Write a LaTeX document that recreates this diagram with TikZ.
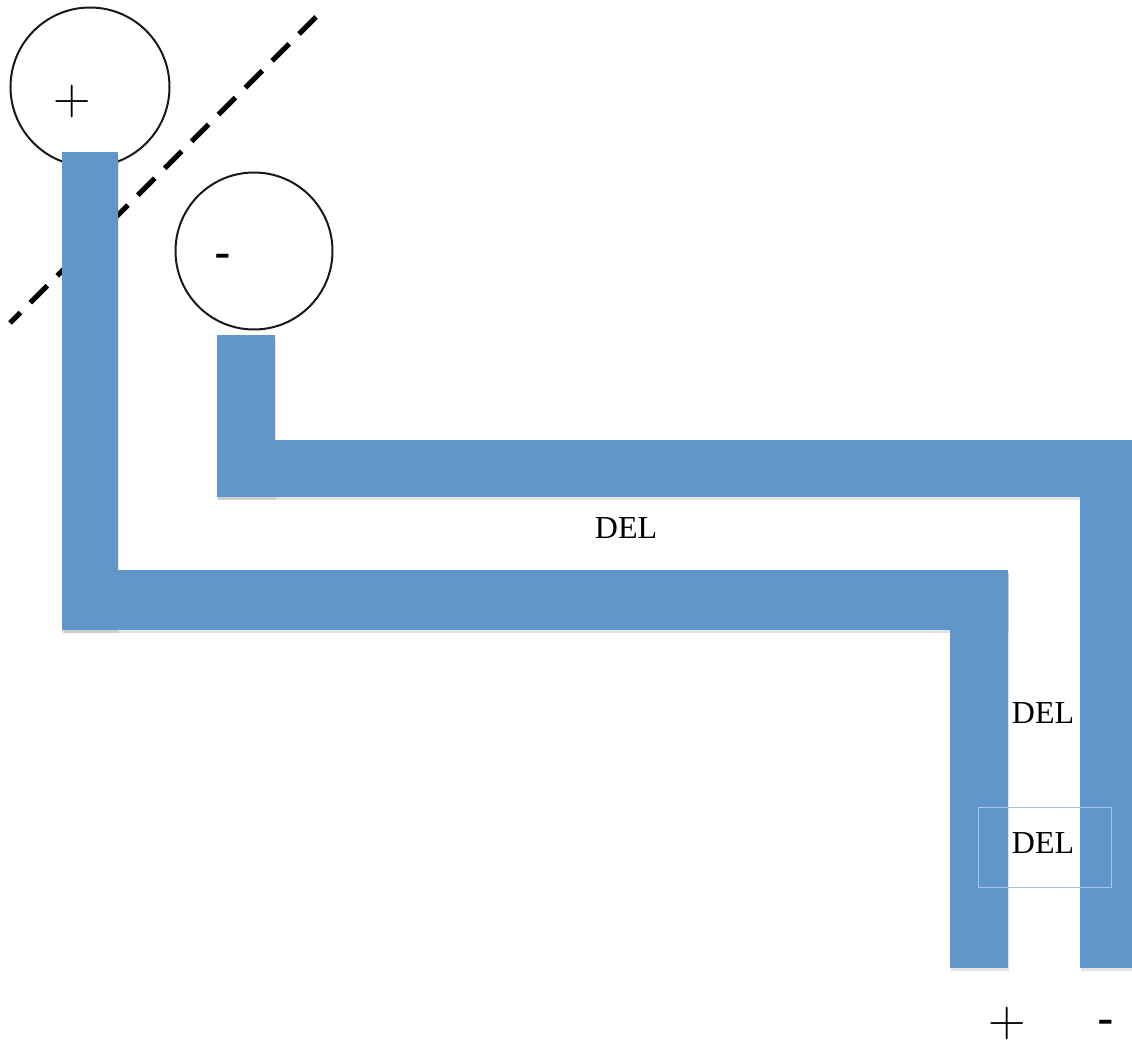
\documentclass[tikz,border=0pt]{standalone}
\usepackage{fontspec}
\setmainfont{Liberation Serif}
\newfontfamily\signfont{Liberation Sans}
\newfontfamily\lmfont{Latin Modern Roman}
\usetikzlibrary{shadows}
\definecolor{barblue}{RGB}{96,150,201}
\definecolor{boxline}{RGB}{165,198,236}
\tikzset{
  bar/.style={fill=barblue, draw=none, drop shadow={opacity=0.22, shadow xshift=1pt, shadow yshift=-3pt}},
  ring/.style={circle, draw=black!90, line width=2pt, fill=white, inner sep=0pt},
  dellabel/.style={font=\fontsize{32}{32}\selectfont, inner sep=0pt},
  plussign/.style={font=\lmfont\fontsize{52}{52}\selectfont, inner sep=0pt, text depth=0pt, anchor=base},
  minussign/.style={font=\signfont\fontsize{50}{50}\selectfont, inner sep=0pt, text depth=0pt}
}
\begin{document}
\begin{tikzpicture}[x=1pt,y=-1pt]
\useasboundingbox (0,0) rectangle (1132,1040);
% circles
\node[ring, minimum size=159pt] (cplus) at (90,87) {};
\node[ring, minimum size=157pt] (cminus) at (254,251) {};
\node[plussign] (tplus) at (72,115) {+};
\node[minussign] (tminus) at (223,262) {-};
% dashed line
\coordinate (d1) at (316,17);
\coordinate (d2) at (10,323);
\draw[line width=5pt, dash pattern=on 24pt off 14pt] (d1) -- (d2);
% bars
\fill[bar] (62,152) rectangle (118,630);
\fill[bar] (62,570) rectangle (1008,630);
\fill[bar] (950,570) rectangle (1008,968);
\fill[bar] (217,335) rectangle (275,497);
\fill[bar] (217,440) rectangle (1132,497);
\fill[bar] (1080,440) rectangle (1132,968);
% labels
\node[dellabel] (del1) at (626,528) {DEL};
\node[dellabel] (del2) at (1043,713) {DEL};
\node[dellabel] (del3) at (1043,843) {DEL};
\node[draw=boxline, line width=1pt, minimum width=133pt, minimum height=80pt, inner sep=0pt] (box) at (1044.5,847) {};
\node[plussign] (bplus) at (1007,1036) {+};
\node[minussign] (bminus) at (1106,1028) {-};
\end{tikzpicture}
\end{document}
